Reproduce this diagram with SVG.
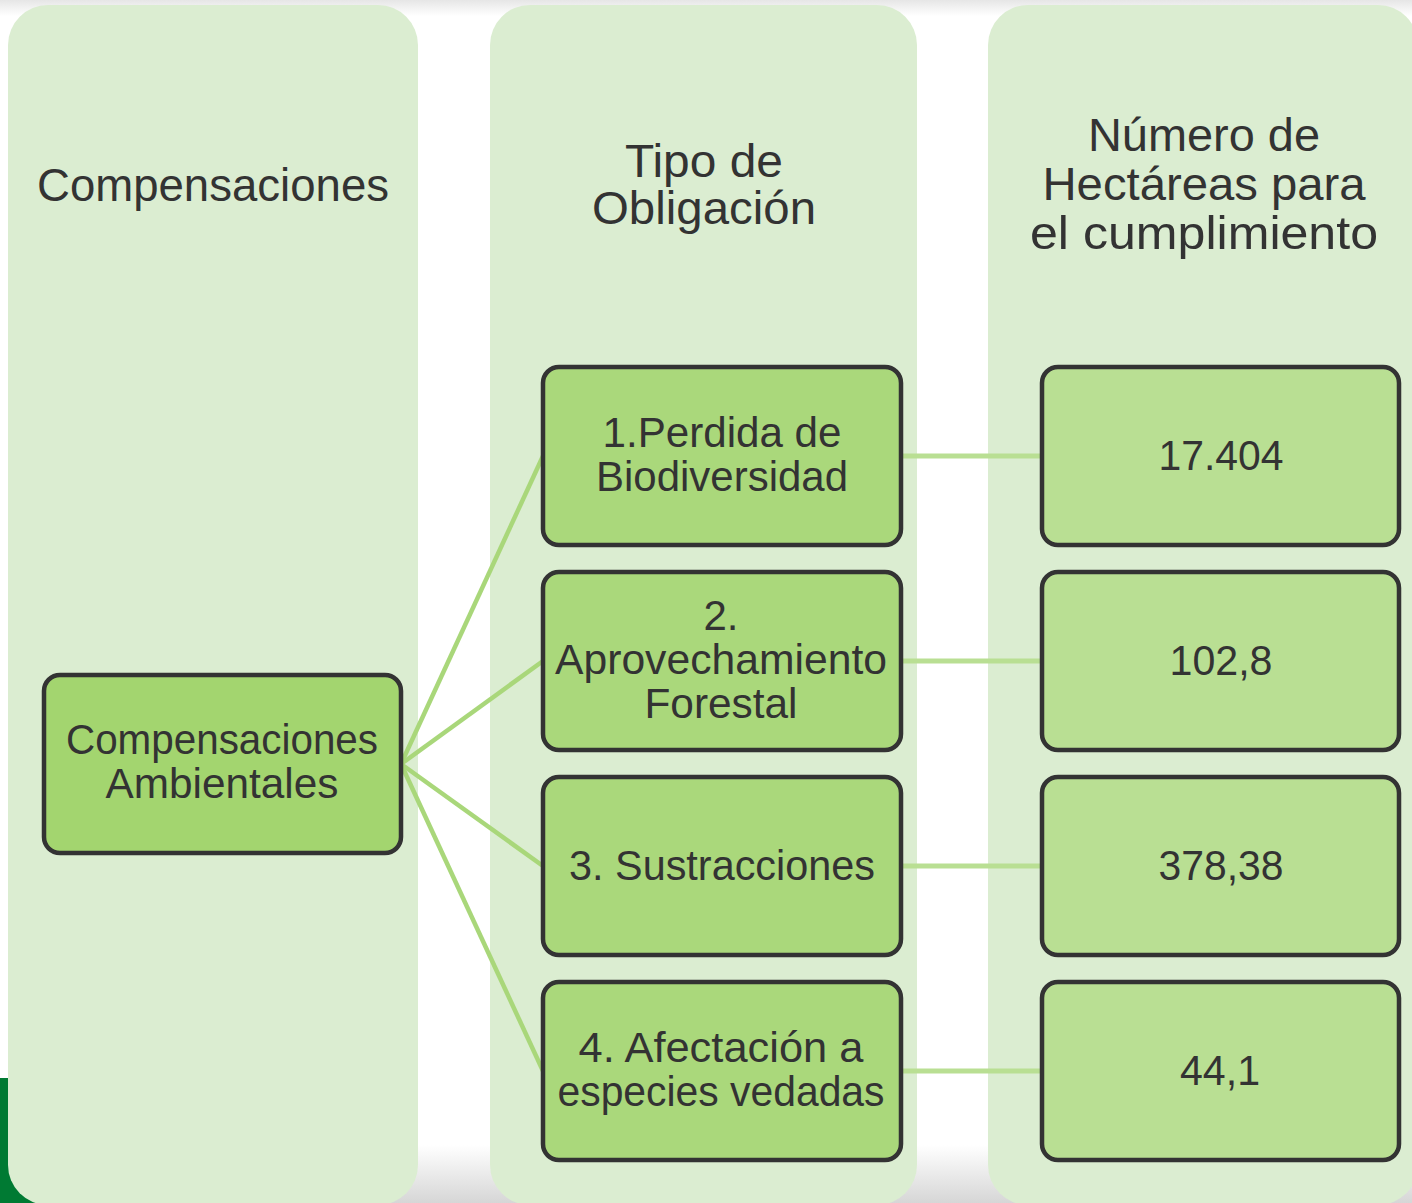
<svg xmlns="http://www.w3.org/2000/svg" width="1412" height="1203" viewBox="0 0 1412 1203">
<defs>
<style>
.col{fill:#DBEDD1}
.box{stroke:#333333;stroke-width:4.5}
.b1{fill:#A3D56F}
.b2{fill:#AAD87B}
.b3{fill:#B9DF93}
.t{font-family:"Liberation Sans",Arial,sans-serif;fill:#333333;text-anchor:middle}
.h{font-size:46px}
.n{font-size:42px}
.c1{stroke:#A9D77A;stroke-width:4.5;fill:none}
.c2{stroke:#B9DF93;stroke-width:5;fill:none}
</style>
<linearGradient id="topg" x1="0" y1="0" x2="0" y2="1">
<stop offset="0" stop-color="#E6E6E6"/>
<stop offset="1" stop-color="#FFFFFF"/>
</linearGradient>
<linearGradient id="botg" x1="0" y1="0" x2="0" y2="1">
<stop offset="0" stop-color="#FFFFFF"/>
<stop offset="1" stop-color="#D6D6D6"/>
</linearGradient>
</defs>
<rect x="0" y="0" width="1412" height="1203" fill="#FFFFFF"/>
<rect x="0" y="0" width="1412" height="16" fill="url(#topg)"/>
<rect x="0" y="1145" width="1412" height="58" fill="url(#botg)"/>
<rect x="0" y="1078" width="40" height="125" fill="#007A33"/>
<g id="columns">
<rect class="col" x="8" y="5" width="410" height="1200" rx="40"/>
<rect class="col" x="490" y="5" width="427" height="1200" rx="40"/>
<rect class="col" x="988" y="5" width="430" height="1200" rx="40"/>
</g>
<g id="headers">
<text class="t h" x="213" y="201" textLength="352" lengthAdjust="spacingAndGlyphs">Compensaciones</text>
<text class="t h"><tspan x="704" y="177" textLength="158" lengthAdjust="spacingAndGlyphs">Tipo de</tspan><tspan x="704" y="224" textLength="224" lengthAdjust="spacingAndGlyphs">Obligación</tspan></text>
<text class="t h"><tspan x="1204" y="151" textLength="232" lengthAdjust="spacingAndGlyphs">Número de</tspan><tspan x="1204" y="200" textLength="323" lengthAdjust="spacingAndGlyphs">Hectáreas para</tspan><tspan x="1204" y="249" textLength="348" lengthAdjust="spacingAndGlyphs">el cumplimiento</tspan></text>
</g>
<g id="connectors">
<line class="c1" x1="401" y1="764" x2="543" y2="456"/>
<line class="c1" x1="401" y1="764" x2="543" y2="661"/>
<line class="c1" x1="401" y1="764" x2="543" y2="866"/>
<line class="c1" x1="401" y1="764" x2="543" y2="1071"/>
<line class="c2" x1="901" y1="456" x2="1042" y2="456"/>
<line class="c2" x1="901" y1="661" x2="1042" y2="661"/>
<line class="c2" x1="901" y1="866" x2="1042" y2="866"/>
<line class="c2" x1="901" y1="1071" x2="1042" y2="1071"/>
</g>
<g id="node-root">
<rect class="box b1" x="44" y="675" width="357" height="178" rx="16"/>
<text class="t n"><tspan x="222" y="754" textLength="312" lengthAdjust="spacingAndGlyphs">Compensaciones</tspan><tspan x="222" y="798" textLength="233" lengthAdjust="spacingAndGlyphs">Ambientales</tspan></text>
</g>
<g id="node-o1">
<rect class="box b2" x="543" y="367" width="358" height="178" rx="16"/>
<text class="t n"><tspan x="722" y="447" textLength="239" lengthAdjust="spacingAndGlyphs">1.Perdida de</tspan><tspan x="722" y="491" textLength="252" lengthAdjust="spacingAndGlyphs">Biodiversidad</tspan></text>
</g>
<g id="node-o2">
<rect class="box b2" x="543" y="572" width="358" height="178" rx="16"/>
<text class="t n"><tspan x="721" y="630" textLength="35" lengthAdjust="spacingAndGlyphs">2.</tspan><tspan x="721" y="674" textLength="332" lengthAdjust="spacingAndGlyphs">Aprovechamiento</tspan><tspan x="721" y="718" textLength="153" lengthAdjust="spacingAndGlyphs">Forestal</tspan></text>
</g>
<g id="node-o3">
<rect class="box b2" x="543" y="777" width="358" height="178" rx="16"/>
<text class="t n" x="722" y="880" textLength="306" lengthAdjust="spacingAndGlyphs">3. Sustracciones</text>
</g>
<g id="node-o4">
<rect class="box b2" x="543" y="982" width="358" height="178" rx="16"/>
<text class="t n"><tspan x="721" y="1062" textLength="285" lengthAdjust="spacingAndGlyphs">4. Afectación a</tspan><tspan x="721" y="1106" textLength="327" lengthAdjust="spacingAndGlyphs">especies vedadas</tspan></text>
</g>
<g id="node-v1">
<rect class="box b3" x="1042" y="367" width="357" height="178" rx="16"/>
<text class="t n" x="1221" y="470" textLength="125" lengthAdjust="spacingAndGlyphs">17.404</text>
</g>
<g id="node-v2">
<rect class="box b3" x="1042" y="572" width="357" height="178" rx="16"/>
<text class="t n" x="1221" y="675" textLength="103" lengthAdjust="spacingAndGlyphs">102,8</text>
</g>
<g id="node-v3">
<rect class="box b3" x="1042" y="777" width="357" height="178" rx="16"/>
<text class="t n" x="1221" y="880" textLength="125" lengthAdjust="spacingAndGlyphs">378,38</text>
</g>
<g id="node-v4">
<rect class="box b3" x="1042" y="982" width="357" height="178" rx="16"/>
<text class="t n" x="1220" y="1085" textLength="80" lengthAdjust="spacingAndGlyphs">44,1</text>
</g>
</svg>
